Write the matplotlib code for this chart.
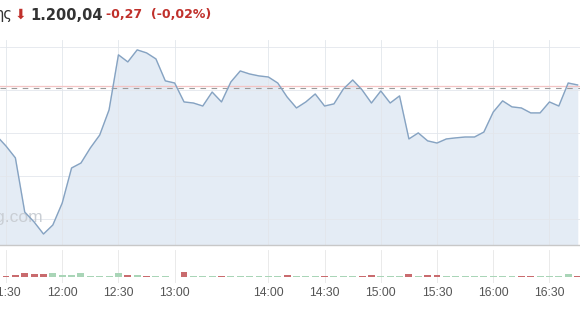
import numpy as np
import matplotlib
matplotlib.use("Agg")
import matplotlib.pyplot as plt

# ---------------------------------------------------------------------------
# Data (5-minute slots, slot 0 = 11:30; lunch gap compresses 13:00-14:00)
# ---------------------------------------------------------------------------
slots = np.arange(-1, 62)
prices = [
    1198.08, 1197.61, 1197.06, 1194.54, 1194.08, 1193.52, 1193.94, 1194.96,
    1196.59, 1196.82, 1197.52, 1198.12, 1199.29, 1201.85, 1201.52, 1202.08,
    1201.94, 1201.66, 1200.64, 1200.54, 1199.66, 1199.61, 1199.47, 1200.12,
    1199.66, 1200.59, 1201.10, 1200.96, 1200.87, 1200.82, 1200.54, 1199.89,
    1199.38, 1199.66, 1200.03, 1199.47, 1199.57, 1200.26, 1200.68, 1200.22,
    1199.61, 1200.17, 1199.61, 1199.94, 1197.94, 1198.22, 1197.85, 1197.75,
    1197.94, 1197.99, 1198.03, 1198.03, 1198.26, 1199.19, 1199.71, 1199.43,
    1199.38, 1199.15, 1199.15, 1199.66, 1199.47, 1200.54, 1200.45,
]
prev_close = 1200.31

vol_slots = np.arange(0, 62)
volumes = [
    1500, 2000, 4500, 3500, 3500, 4000, 2000, 2000, 4500, 1000, 1000, 1000,
    4500, 2500, 2000, 1500, 1000, 1000, 0, 5500, 1000, 1000, 1000, 1500,
    1000, 1500, 1000, 1000, 1000, 1000, 2500, 1000, 1000, 1000, 1000, 1000,
    1000, 1000, 1000, 2000, 1500, 1000, 1000, 3500, 1500, 2000, 2000, 1000,
    1000, 1000, 1000, 1000, 1500, 1000, 1000, 1500, 1500, 1500, 1500, 1000,
    3000, 1500,
]
vol_up = [
    0, 0, 0, 0, 0, 1, 1, 1, 1, 1, 1, 1,
    1, 0, 1, 0, 1, 1, 1, 0, 1, 1, 1, 0,
    1, 1, 1, 1, 1, 1, 0, 1, 1, 1, 0, 1,
    1, 1, 0, 0, 1, 1, 1, 0, 1, 0, 0, 1,
    1, 1, 1, 1, 1, 1, 1, 0, 0, 1, 1, 1,
    1, 0,
]

tick_slots = [0, 6, 12, 18, 28, 34, 40, 46, 52, 58]
tick_labels = ["11:30", "12:00", "12:30", "13:00", "14:00", "14:30",
               "15:00", "15:30", "16:00", "16:30"]
grid_levels = [1194.22, 1196.22, 1198.22, 1200.22, 1202.22]

W, H = 580, 309
fig = plt.figure(figsize=(W / 100, H / 100), dpi=100)
plt.rcParams["font.family"] = ["Liberation Sans", "DejaVu Sans"]

xlim = (-6 / 9.37, 574 / 9.37)

# ---------------------------------------------------------------------------
# Price panel
# ---------------------------------------------------------------------------
ax = fig.add_axes([0, 1 - 245 / H, 1, 205 / H])
ax.set_xlim(*xlim)
ax.set_ylim(1193.01, 1202.54)
ax.fill_between(slots, prices, 1193.01, color="#e4ecf5", zorder=2)
ax.plot(slots, prices, color="#86a3c2", linewidth=1.0, zorder=4)
ax.axhline(prev_close + 0.07, color="#f3c4c4", linewidth=0.9, zorder=3)
ax.axhline(prev_close, color="#9a9a9a", linewidth=0.8, dashes=(5, 5), zorder=3)
for g in grid_levels:
    ax.axhline(g, color="#e3e7ec", linewidth=0.6, zorder=2.2)
for t in tick_slots:
    ax.axvline(t, color="#e2e6eb", linewidth=0.6, zorder=2.2)
# watermark, partly cut by the left edge
ax.text(44 / W * (xlim[1] - xlim[0]) + xlim[0], 1194.3, "investing.com",
        ha="right", va="center", fontsize=12.5, color="#c9ced4", zorder=2.5)
ax.set_xticks([])
ax.set_yticks([])
for side in ["top", "left", "right"]:
    ax.spines[side].set_visible(False)
ax.spines["bottom"].set_color("#c8c8c8")
ax.spines["bottom"].set_linewidth(1.0)
ax.patch.set_alpha(0)

# ---------------------------------------------------------------------------
# Volume panel
# ---------------------------------------------------------------------------
vax = fig.add_axes([0, 1 - 283 / H, 1, 33 / H])
vax.set_xlim(*xlim)
vax.set_ylim(-6000, 27000)
colors = ["#a9d5b7" if u else "#c96b6e" for u in vol_up]
vax.bar(vol_slots, volumes, width=0.74, bottom=0, color=colors, zorder=2)
for t in tick_slots:
    vax.axvline(t, color="#e6e6e6", linewidth=0.6, zorder=1)
vax.set_xticks(tick_slots)
vax.set_xticklabels(tick_labels, fontsize=8.7, color="#555555")
vax.tick_params(axis="x", length=0, pad=3)
vax.set_yticks([])
for side in ["top", "left", "right", "bottom"]:
    vax.spines[side].set_visible(False)
vax.patch.set_alpha(0)

# ---------------------------------------------------------------------------
# Header (left part cut off by the edge, as in the source)
# ---------------------------------------------------------------------------
hy = 1 - 15 / H
fig.text(12 / W, hy, "ης", ha="right", va="center", fontsize=10.5,
         color="#333333", family="DejaVu Sans")
fig.text(20 / W, hy, "\u2b07", ha="center", va="center", fontsize=10,
         color="#c0302b", family="DejaVu Sans")
fig.text(30 / W, hy, "1.200,04", ha="left", va="center", fontsize=10.5,
         color="#333333", fontweight="bold", family="DejaVu Sans")
fig.text(106 / W, hy, "-0,27  (-0,02%)", ha="left", va="center", fontsize=9,
         color="#c0302b", fontweight="bold", family="DejaVu Sans")

fig.savefig("out.png", dpi=100)
